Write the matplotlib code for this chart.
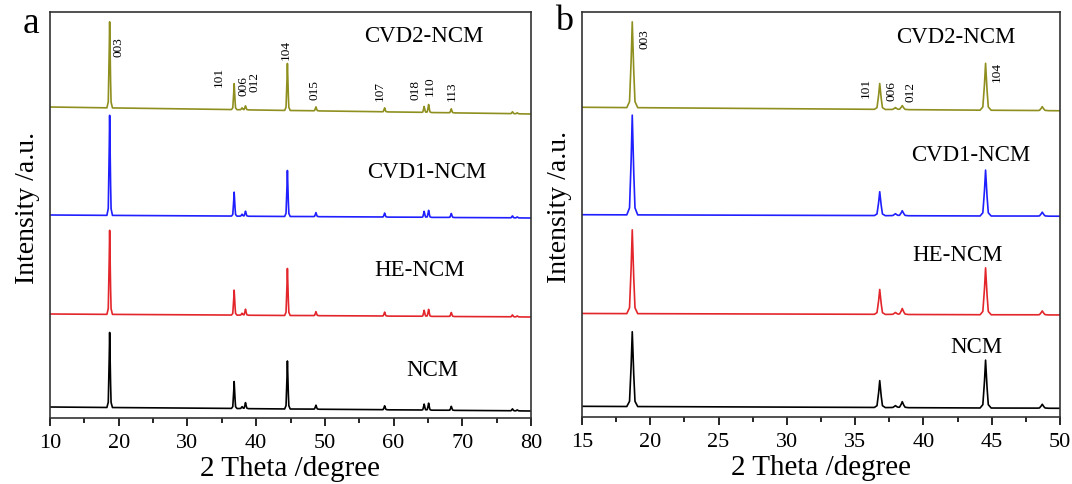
import numpy as np
import matplotlib.pyplot as plt
from matplotlib.ticker import MultipleLocator

plt.rcParams['font.family'] = ['Liberation Serif', 'DejaVu Serif']

# peak positions (2 theta)
peak_pos = [18.68, 36.8, 37.95, 38.45, 44.55, 48.7, 58.7, 64.45, 65.1, 68.4, 77.3, 78.0]

# peak heights (a.u., in the stacked plot scale) for each sample
h_ncm = [75, 27, 2, 6, 48, 4, 4, 6, 7, 4, 2, 1]
h_he = [84, 25, 2, 6, 47, 4, 4, 6, 7, 4, 2, 1]
h_cvd1 = [100, 24, 2, 5, 46, 4, 4, 6, 7, 4, 2, 1]
h_cvd2 = [86, 26, 2, 4, 47, 4, 4, 6, 8, 4, 2, 1]

# baseline level at 10 and 80 degrees (stack offsets)
base_ncm = [11, 7]
base_he = [104, 101]
base_cvd1 = [203, 200]
base_cvd2 = [311, 304]

names = ['NCM', 'HE-NCM', 'CVD1-NCM', 'CVD2-NCM']
colors = ['black', '#e3262b', '#1f1fff', '#8f8f1f']
heights = [h_ncm, h_he, h_cvd1, h_cvd2]
bases = [base_ncm, base_he, base_cvd1, base_cvd2]

# hkl labels on CVD2 pattern: (text, x, y) for each panel
hkl_a = [('003', 20.0, 372), ('101', 34.5, 342), ('006', 38.1, 333), ('012', 39.8, 337),
         ('104', 44.3, 369), ('015', 48.5, 329), ('107', 58.0, 328), ('018', 63.2, 329),
         ('110', 65.2, 333), ('113', 68.5, 328)]
hkl_b = [('003', 19.55, 380), ('101', 35.75, 331), ('006', 37.65, 328), ('012', 39.05, 327),
         ('104', 45.4, 347)]

# sample name positions per panel
name_pos_a = [(65.6, 49), (63.8, 149), (64.9, 247), (64.4, 382)]
name_pos_b = [(43.9, 71), (42.5, 163), (43.5, 263), (42.4, 381)]

# peak profile shape (style)
prof_dx = np.array([-0.4, -0.2, -0.09, 0.0, 0.09, 0.2, 0.4])
prof_rel = np.array([0.0, 0.07, 0.5, 1.0, 0.5, 0.07, 0.0])

x = np.linspace(10, 80, 7001)


def pattern(h, b):
    y = np.interp(x, [10, 80], b)
    for p, hh in zip(peak_pos, h):
        y = y + np.interp(x, p + prof_dx, hh * prof_rel, left=0, right=0)
    return y


fig = plt.figure(figsize=(10.72, 4.85), dpi=100)
ax_a = fig.add_axes([50 / 1072, 66 / 485, 481 / 1072, 406 / 485])
ax_b = fig.add_axes([582 / 1072, 67 / 485, 478 / 1072, 405 / 485])

for ax, xlim, major, hkl, npos in [(ax_a, (10, 80), 10, hkl_a, name_pos_a),
                                   (ax_b, (15, 50), 5, hkl_b, name_pos_b)]:
    for h, b, c, n, (tx, ty) in zip(heights, bases, colors, names, npos):
        ax.plot(x, pattern(h, b), color=c, lw=1.2)
        ax.text(tx, ty, n, fontsize=16.5, ha='center', va='center')
    for t, tx, ty in hkl:
        ax.text(tx, ty, t, fontsize=9.5, rotation=90, ha='center', va='center')
    ax.set_xlim(*xlim)
    ax.set_ylim(0, 406)
    ax.set_yticks([])
    ax.xaxis.set_major_locator(MultipleLocator(major))
    ax.xaxis.set_minor_locator(MultipleLocator(major / 2))
    ax.tick_params(axis='x', which='major', direction='out', length=6, width=1.2,
                   labelsize=16, pad=5)
    ax.tick_params(axis='x', which='minor', direction='out', length=3.5, width=1.2)
    for s in ax.spines.values():
        s.set_linewidth(1.2)
        s.set_color('#333333')
    ax.set_xlabel('2 Theta /degree', fontsize=21, labelpad=2)
    ax.set_ylabel('Intensity /a.u.', fontsize=20)
    ax.yaxis.set_label_coords(-0.021, 0.52)

fig.text(31 / 1072, 1 - 24 / 485, 'a', fontsize=27, ha='center', va='center')
fig.text(564 / 1072, 1 - 22 / 485, 'b', fontsize=26, ha='center', va='center')

fig.savefig('out.png', dpi=100)
